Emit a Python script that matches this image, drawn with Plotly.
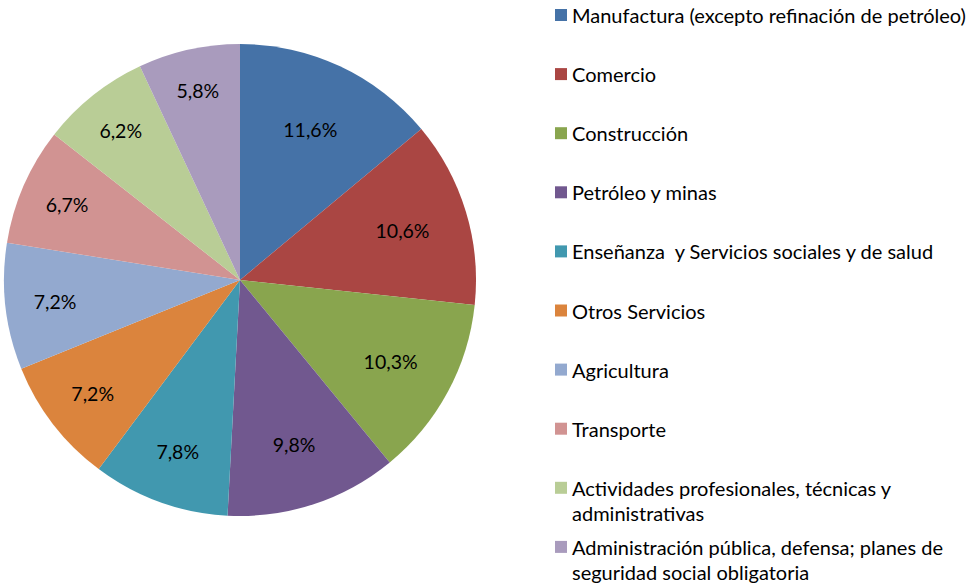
import plotly.graph_objects as go

categories = [
    "Manufactura (excepto refinación de petróleo)",
    "Comercio",
    "Construcción",
    "Petróleo y minas",
    "Enseñanza  y Servicios sociales y de salud",
    "Otros Servicios",
    "Agricultura",
    "Transporte",
    "Actividades profesionales, técnicas y<br>administrativas",
    "Administración pública, defensa; planes de<br>seguridad social obligatoria",
]
values = [11.6, 10.6, 10.3, 9.8, 7.8, 7.2, 7.2, 6.7, 6.2, 5.8]
colors = ["#4572A7", "#AA4643", "#89A54E", "#71588F", "#4198AF",
          "#DB843D", "#93A9CF", "#D19392", "#B9CD96", "#A99BBD"]

value_text = [f"{v:.1f}".replace(".", ",") + "%" for v in values]

W, H = 970, 585
FONT = "Lato"

fig = go.Figure(go.Pie(
    labels=[c.replace("<br>", " ") for c in categories],
    values=values,
    text=value_text,
    textinfo="text",
    textposition="inside",
    insidetextorientation="horizontal",
    sort=False,
    direction="clockwise",
    rotation=0,
    marker=dict(colors=colors, line=dict(width=0)),
    textfont=dict(color="black", size=19.5, family=FONT),
    domain=dict(x=[4 / W, 476 / W], y=[69 / H, 541 / H]),
    hoverinfo="skip",
    showlegend=False,
))

# Legend drawn as layout decoration (squares + text), one entry per category
leg_x_box = 555
leg_x_text = 570
leg_y0 = 15
leg_step = 59.1
line_h = 25
box = 12
shapes = []
annotations = []
for i, (cat, col) in enumerate(zip(categories, colors)):
    yc = leg_y0 + leg_step * i
    shapes.append(dict(type="rect", xref="paper", yref="paper",
                       x0=leg_x_box / W, x1=(leg_x_box + box) / W,
                       y0=1 - (yc + box / 2) / H, y1=1 - (yc - box / 2) / H,
                       fillcolor=col, line=dict(width=0)))
    for k, line in enumerate(cat.split("<br>")):
        annotations.append(dict(xref="paper", yref="paper",
                                x=leg_x_text / W, y=1 - (yc + k * line_h) / H,
                                xanchor="left", yanchor="middle",
                                text=line, showarrow=False,
                                font=dict(size=20, family=FONT, color="black")))

fig.update_layout(
    width=W, height=H,
    margin=dict(l=0, r=0, t=0, b=0),
    paper_bgcolor="white",
    font=dict(family=FONT, size=20, color="black"),
    shapes=shapes,
    annotations=annotations,
)

fig.write_html("out.html",
               config={"displayModeBar": False},
               post_script="document.body.style.margin='0';document.body.style.padding='0';")
